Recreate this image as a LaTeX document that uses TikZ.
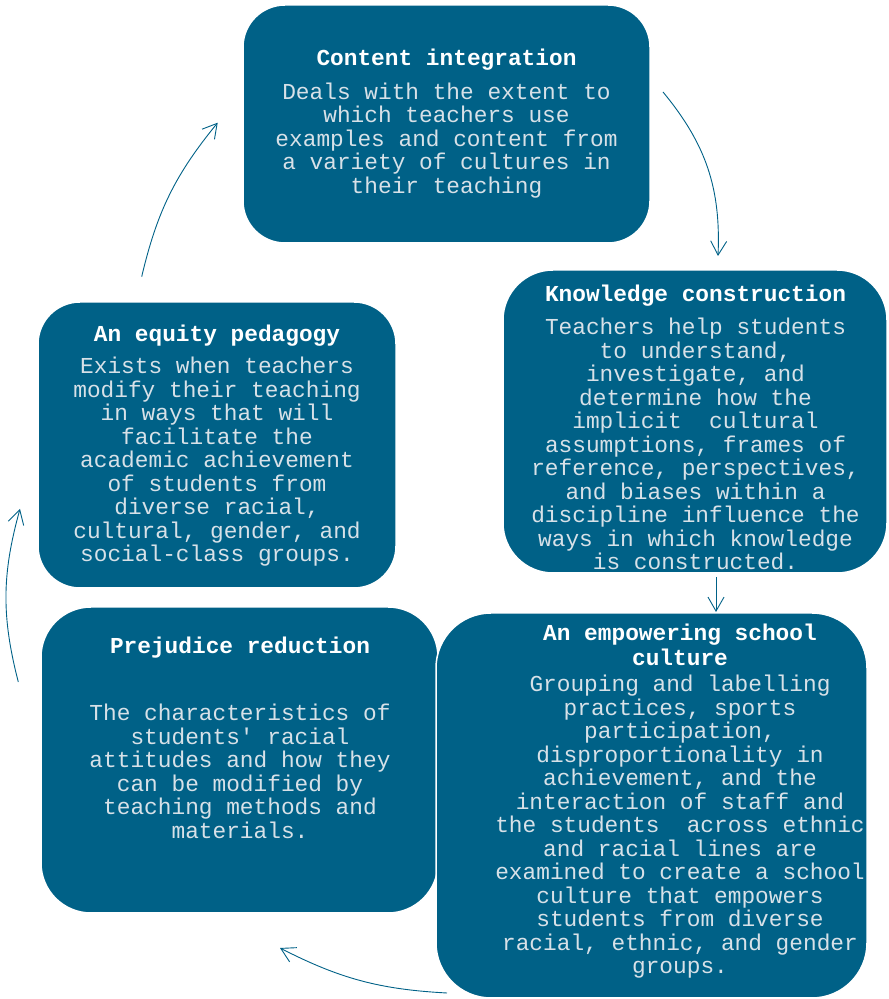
\documentclass[tikz,border=0pt]{standalone}
\usepackage{fontspec}
\setmonofont{Liberation Mono}
\usetikzlibrary{arrows.meta}
\definecolor{boxblue}{RGB}{0,97,135}
\definecolor{bodygray}{RGB}{215,225,232}
\newcommand\mytitle{\bfseries\color{white}}
\newcommand\mybody{\mdseries\color{bodygray}}
\tikzset{
  box/.style={fill=boxblue, draw=white, line width=1.5pt, rounded corners=#1, inner sep=0pt},
  txt/.style={inner sep=0pt, anchor=base, font=\ttfamily\fontsize{22.8pt}{23.5pt}\selectfont\frenchspacing},
  cyc/.style={draw=boxblue, line width=0.9pt, -{Straight Barb[length=14pt,width=16pt]}}
}
\begin{document}
\begin{tikzpicture}[x=1pt,y=1pt]
\useasboundingbox (0,0) rectangle (889,999);
% boxes
\node[box=42pt, minimum width=407pt, minimum height=238pt] (ci) at (446.5,875) {};
\node[box=50pt, minimum width=384pt, minimum height=303pt] (kc) at (695,577.5) {};
\node[box=42pt, minimum width=358pt, minimum height=286pt] (ep) at (217,554) {};
\node[box=50pt, minimum width=397pt, minimum height=306pt] (pr) at (239.5,239) {};
\node[box=55pt, minimum width=431pt, minimum height=385pt] (es) at (651.5,193.5) {};
% texts
\node[txt] (ci-text) at (446.5,933) {\parbox[t]{400pt}{\centering\leavevmode
  \mytitle Content integration\\[9.8pt]
  \mybody Deals with the extent to\\ which teachers use\\ examples and content from\\ a variety of cultures in\\ their teaching}};
\node[txt] (kc-text) at (695.5,697.3) {\parbox[t]{400pt}{\centering\leavevmode
  \mytitle Knowledge construction\\[9.8pt]
  \mybody Teachers help students\\ to understand,\\ investigate, and\\ determine how the\\ implicit~ cultural\\ assumptions, frames of\\ reference, perspectives,\\ and biases within a\\ discipline influence the\\ ways in which knowledge\\ is constructed.}};
\node[txt] (ep-text) at (217,657.3) {\parbox[t]{400pt}{\centering\leavevmode
  \mytitle An equity pedagogy\\[8.5pt]
  \mybody Exists when teachers\\ modify their teaching\\ in ways that will\\ facilitate the\\ academic achievement\\ of students from\\ diverse racial,\\ cultural, gender, and\\ social-class groups.}};
\node[txt] (pr-text) at (240,345) {\parbox[t]{400pt}{\centering\leavevmode
  \mytitle Prejudice reduction\\[43.2pt]
  \mybody The characteristics of\\ students\textquotesingle{} racial\\ attitudes and how they\\ can be modified by\\ teaching methods and\\ materials.}};
\node[txt] (es-text) at (680,358) {\parbox[t]{400pt}{\centering\leavevmode
  \mytitle An empowering school\\[1.5pt] culture\\[2.2pt]
  \mybody Grouping and labelling\\ practices, sports\\ participation,\\ disproportionality in\\ achievement, and the\\ interaction of staff and\\ the students~ across ethnic\\ and racial lines are\\ examined to create a school\\ culture that empowers\\ students from diverse\\ racial, ethnic, and gender\\ groups.}};
% arrow ends
\coordinate (a1s) at (663,907);   \coordinate (a1e) at (718,743);
\coordinate (a2s) at (716,422);   \coordinate (a2e) at (716,387);
\coordinate (a3s) at (447,6);     \coordinate (a3e) at (280,51);
\coordinate (a4s) at (18.3,317);  \coordinate (a4e) at (20,490);
\coordinate (a5s) at (141.7,722.3); \coordinate (a5e) at (217.7,876.3);
% connectors
\draw[cyc] (a1s) to[bend left=21] (a1e);
\draw[cyc] (a2s) -- (a2e);
\draw[cyc] (a3s) to[bend left=12] (a3e);
\draw[cyc] (a4s) to[bend left=15] (a4e);
\draw[cyc] (a5s) to[bend left=13] (a5e);
\end{tikzpicture}
\end{document}
